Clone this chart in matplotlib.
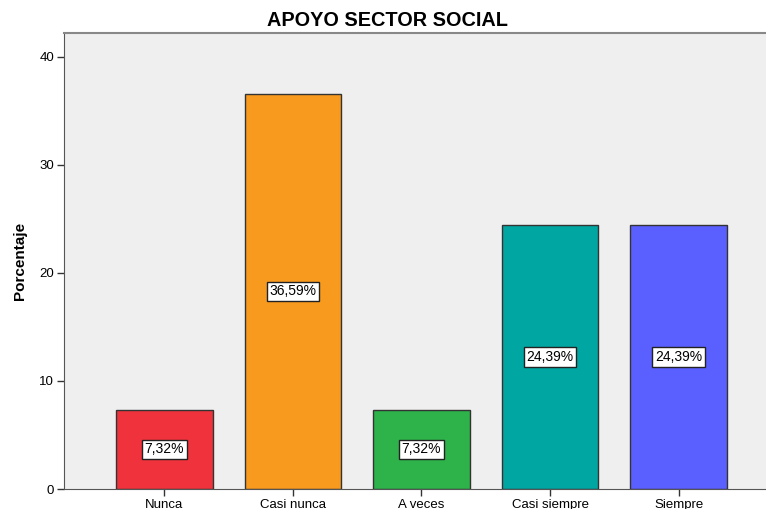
import matplotlib
matplotlib.use("Agg")
from matplotlib import pyplot as plt

# datos del gráfico
categorias = ["Nunca", "Casi nunca", "A veces", "Casi siempre", "Siempre"]
porcentajes = [7.32, 36.59, 7.32, 24.39, 24.39]
etiquetas = ["7,32%", "36,59%", "7,32%", "24,39%", "24,39%"]
colores = ["#F0323C", "#F89A1E", "#2DB34A", "#00A6A2", "#5A5FFF"]

plt.rcParams["font.family"] = ["Liberation Sans", "DejaVu Sans"]

fig = plt.figure(figsize=(7.66, 5.09), dpi=100)
ax = fig.add_axes([64 / 766, 20 / 509, 1 - 64 / 766, 456 / 509])
ax.set_facecolor("#EFEFEF")

x = list(range(len(categorias)))
ax.bar(x, porcentajes, width=0.75, color=colores, edgecolor="#333333", linewidth=1)

for i in x:
    ax.text(i, porcentajes[i] / 2, etiquetas[i], ha="center", va="center", fontsize=10,
            bbox=dict(boxstyle="square,pad=0.2", facecolor="white", edgecolor="#222222", linewidth=1))

ax.set_xlim(-0.78, 4.68)
ax.set_ylim(0, 42.2)
ax.set_yticks([0, 10, 20, 30, 40])
ax.set_xticks(x)
ax.set_xticklabels(categorias)
ax.tick_params(axis="both", labelsize=9.5, length=5, width=1, color="#333333", pad=2)

ax.spines["right"].set_visible(False)
ax.spines["top"].set_color("#888888")
ax.spines["top"].set_linewidth(1.5)
ax.spines["left"].set_color("#555555")
ax.spines["bottom"].set_color("#555555")

ax.set_ylabel("Porcentaje", fontsize=11, fontweight="bold", labelpad=9)
fig.text(387 / 766, 1 - 20 / 509, "APOYO SECTOR SOCIAL", ha="center", va="center",
         fontsize=14.3, fontweight="bold")

fig.savefig("out.png", dpi=100)
